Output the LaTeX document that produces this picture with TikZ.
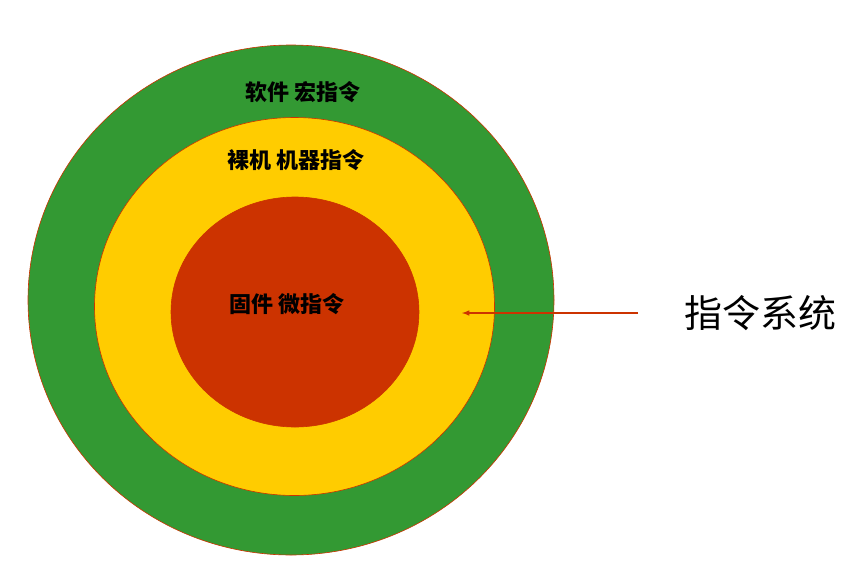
\documentclass[tikz,border=0pt]{standalone}
\usepackage{fontspec}
\newfontfamily\cjk{Noto Sans CJK SC}
\definecolor{ringgreen}{RGB}{51,153,51}
\definecolor{ringyellow}{RGB}{255,204,0}
\definecolor{ringred}{RGB}{204,51,0}
\tikzset{
  ring/.style={draw=ringred, line width=0.6pt},
  lbl/.style={font=\cjk\bfseries\fontsize{22}{24}\selectfont, text=black},
}
\begin{document}
\begin{tikzpicture}[x=1pt,y=-1pt]
    \useasboundingbox (0,0) rectangle (868,579);
    % rings
    \fill[ring, fill=ringgreen] (291,300) ellipse [x radius=263, y radius=255];
    \fill[ring, fill=ringyellow] (294.5,306.5) ellipse [x radius=200, y radius=189];
    \fill[ring, fill=ringred] (295,312) ellipse [x radius=124, y radius=115];
    % labels
    \node[lbl] (soft) at (303,92) {软件 宏指令};
    \node[lbl] (bare) at (296,160) {裸机 机器指令};
    \node[lbl] (firm) at (287,304) {固件 微指令};
    \node[font=\cjk\fontsize{38}{40}\selectfont] (isa) at (760,313) {指令系统};
    \coordinate (tail) at (638,313);
    \coordinate (head) at (462,313);
    \draw[ringred, line width=1.5pt, -latex] (tail) -- (head);
\end{tikzpicture}
\end{document}
